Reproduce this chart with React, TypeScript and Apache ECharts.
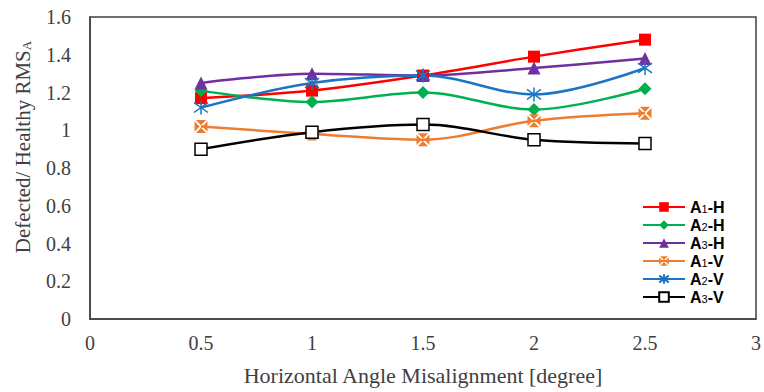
import React, { useEffect, useRef } from "react";
import * as echarts from "echarts";

const xValues = [0.5, 1, 1.5, 2, 2.5];
const seriesNames = ["A1-H", "A2-H", "A3-H", "A1-V", "A2-V", "A3-V"];
const a1H = [1.17, 1.21, 1.29, 1.39, 1.48];
const a2H = [1.21, 1.15, 1.2, 1.11, 1.22];
const a3H = [1.25, 1.3, 1.29, 1.33, 1.38];
const a1V = [1.02, 0.98, 0.95, 1.05, 1.09];
const a2V = [1.12, 1.25, 1.29, 1.19, 1.33];
const a3V = [0.9, 0.99, 1.03, 0.95, 0.93];
const xTitle = "Horizontal Angle Misalignment [degree]";
const yTitleMain = "Defected/ Healthy RMS";
const yTitleSub = "A";

const serif = "'Liberation Serif', 'Times New Roman', serif";
const sans = "Liberation Sans";

const xSquarePath =
  "path://M1,0L9,0L5,4Z M10,1L10,9L6,5Z M9,10L1,10L5,6Z M0,9L0,1L4,5Z";
const asteriskPath = "path://M5,0L5,10 M0.5,1.5L9.5,8.5 M9.5,1.5L0.5,8.5";

export default function App() {
  const ref = useRef<HTMLDivElement>(null);
  useEffect(() => {
    if (!ref.current) return;
    const chart = echarts.init(ref.current, null, { renderer: "svg" });
    const pair = (vals: number[]) => xValues.map((x, i) => [x, vals[i]]);
    const base = (name: string, color: string, vals: number[]) => ({
      name,
      type: "line",
      smooth: 0.35,
      data: pair(vals),
      lineStyle: { color, width: 2.5 },
      itemStyle: { color, borderWidth: 0 },
      z: 2,
    });
    const series: any[] = [
      { ...base(seriesNames[0], "#FF0000", a1H), symbol: "rect", symbolSize: 12 },
      { ...base(seriesNames[1], "#00B050", a2H), symbol: "diamond", symbolSize: 13 },
      { ...base(seriesNames[2], "#7030A0", a3H), symbol: "triangle", symbolSize: 13 },
      {
        ...base(seriesNames[3], "#ED7D31", a1V),
        symbol: xSquarePath,
        symbolSize: 13,
        symbolKeepAspect: true,
      },
      {
        ...base(seriesNames[4], "#1C74C4", a2V),
        symbol: asteriskPath,
        symbolSize: 14,
        itemStyle: { color: "#1C74C4", borderColor: "#1C74C4", borderWidth: 1.5 },
      },
      {
        ...base(seriesNames[5], "#000000", a3V),
        symbol: "rect",
        symbolSize: 12,
        itemStyle: { color: "#FFFFFF", borderColor: "#000000", borderWidth: 1.5 },
      },
    ];
    const tickLabel = {
      color: "#404040",
      fontFamily: serif,
      fontSize: 20,
    };
    chart.setOption({
      animation: false,
      grid: {
        left: 90,
        right: 2,
        top: 17,
        bottom: 73,
        show: true,
        borderColor: "#404040",
        borderWidth: 1.5,
        backgroundColor: "transparent",
      },
      xAxis: {
        type: "value",
        min: 0,
        max: 3,
        interval: 0.5,
        axisLine: { show: true, lineStyle: { color: "#404040", width: 1.5 } },
        axisTick: { show: false },
        splitLine: { show: false },
        axisLabel: { ...tickLabel, margin: 14 },
      },
      yAxis: {
        type: "value",
        min: 0,
        max: 1.6,
        interval: 0.2,
        axisLine: { show: true, lineStyle: { color: "#404040", width: 1.5 } },
        axisTick: { show: false },
        splitLine: { show: false },
        axisLabel: { ...tickLabel, margin: 19 },
      },
      legend: {
        data: seriesNames,
        orient: "vertical",
        left: 637,
        top: 193,
        itemWidth: 42,
        itemHeight: 12,
        itemGap: 0,
        formatter: (n: string) => `{b|${n[0]}}{s|${n[1]}}{b|${n.slice(2)}}`,
        textStyle: {
          lineHeight: 18,
          rich: {
            b: { fontFamily: sans, fontWeight: "bold", fontSize: 16, color: "#000", lineHeight: 18 },
            s: { fontFamily: sans, fontWeight: "normal", fontSize: 11, color: "#000", lineHeight: 18, padding: [4, 0, 0, 0] },
          },
        },
      },
      graphic: [
        {
          type: "text",
          x: 423,
          y: 375,
          style: {
            text: xTitle,
            font: `22px ${serif}`,
            fill: "#404040",
            align: "center",
            verticalAlign: "middle",
          },
        },
        {
          type: "text",
          x: 23,
          y: 147,
          rotation: Math.PI / 2,
          style: {
            text: `{m|${yTitleMain}}{s|${yTitleSub}}`,
            align: "center",
            verticalAlign: "middle",
            rich: {
              m: { fontFamily: serif, fontSize: 21, fill: "#404040" },
              s: { fontFamily: serif, fontSize: 13, fill: "#404040", padding: [7, 0, 0, 0] },
            },
          },
        },
      ],
      series,
    });
    return () => chart.dispose();
  }, []);
  return <div ref={ref} style={{ width: 764, height: 392, position: "absolute", left: 0, top: 0 }} />;
}
